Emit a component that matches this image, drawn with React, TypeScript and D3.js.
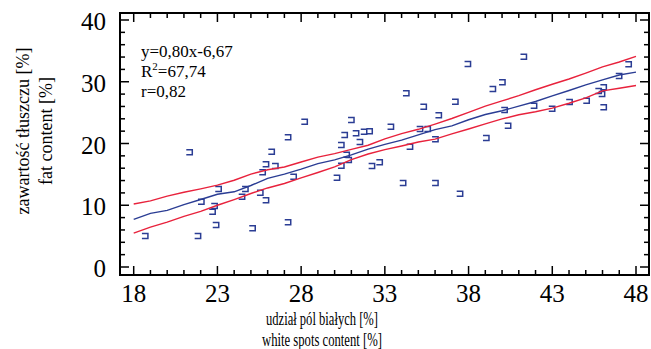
import React from 'react';
import * as d3 from 'd3';

// white spots content [%] vs fat content [%]
const pointsX = [
  18.67, 21.32, 21.82, 22.02, 22.69, 22.81, 22.9, 23.05, 24.45, 24.65,
  25.08, 25.54, 25.68, 25.88, 25.88, 26.22, 26.44, 27.2, 27.2, 27.53,
  28.19, 30.12, 30.38, 30.38, 30.58, 30.7, 30.82, 30.98, 31.26, 31.49,
  31.74, 32.07, 32.21, 32.67, 33.34, 34.07, 34.26, 34.48, 35.08, 35.3,
  35.54, 36.0, 36.0, 36.2, 37.19, 37.47, 37.94, 39.04, 39.43, 40.0,
  40.13, 40.34, 41.28, 41.89, 42.97, 44.01, 45.03, 45.75, 46.05, 45.95,
  46.05, 46.97, 47.54,
];
const pointsY = [
  5.02, 18.57, 5.02, 10.57, 8.96, 9.88, 6.8, 12.63, 11.38, 12.63,
  6.27, 12.03, 15.34, 16.63, 10.8, 18.67, 16.36, 21.0, 7.24, 14.62,
  23.53, 14.46, 19.76, 16.4, 21.38, 18.19, 17.33, 23.81, 21.65, 20.24,
  21.91, 21.99, 16.36, 16.96, 22.72, 13.6, 28.13, 19.48, 22.35, 25.96,
  22.35, 20.68, 13.6, 24.57, 26.77, 11.85, 32.87, 20.89, 28.83, 29.91,
  25.43, 22.88, 34.06, 26.1, 25.64, 26.72, 26.93, 28.5, 29.1, 28.02,
  25.86, 30.93, 32.84,
];

// regression curve and confidence bands
const lineX = [
  18, 19, 20, 21, 22, 23, 24, 25, 26, 27, 28, 29, 30, 31, 32, 33,
  34, 35, 36, 37, 38, 39, 40, 41, 42, 43, 44, 45, 46, 47, 48,
];
const fitY = [
  7.72, 8.68, 9.18, 10.1, 10.93, 11.78, 12.18, 13.2, 14.35, 15.05, 15.85,
  16.75, 17.35, 18.15, 19.1, 19.85, 20.55, 21.4, 22.25, 22.85, 23.85,
  24.7, 25.3, 26.05, 26.8, 27.72, 28.58, 29.5, 30.3, 31.1, 31.55,
];
const upperY = [
  10.2, 10.71, 11.47, 12.1, 12.66, 13.25, 14.05, 15.05, 15.75, 16.2, 17.0,
  17.8, 18.35, 19.05, 19.72, 20.75, 21.6, 22.3, 23.15, 24.05, 25.05,
  26.05, 26.9, 27.75, 28.7, 29.6, 30.45, 31.4, 32.4, 33.2, 34.1,
];
const lowerY = [
  5.48, 6.45, 7.28, 8.2, 9.02, 10.0, 10.92, 11.9, 12.8, 13.52, 14.42,
  15.3, 16.2, 17.38, 18.3, 19.0, 19.6, 20.25, 20.7, 21.55, 22.35,
  23.18, 23.98, 24.65, 25.15, 25.72, 26.52, 27.4, 28.52, 28.95, 29.4,
];

const xTicks = [18, 23, 28, 33, 38, 43, 48];
const yTicks = [0, 10, 20, 30, 40];
const yMinor = [2, 4, 6, 8, 12, 14, 16, 18, 22, 24, 26, 28, 32, 34, 36, 38];
const xMinor = d3.range(18, 49).filter(v => !xTicks.includes(v));

const annotation = ['y=0,80x-6,67', '=67,74', 'r=0,82'];

const W = 651, H = 349;
const frame = { left: 120, right: 649, top: 13, bottom: 275 };
const font = 'Liberation Serif, Times New Roman, serif';
const blue = '#2b3d94';
const red = '#e8223c';

export default function App() {
  const x = d3.scaleLinear().domain([18, 48]).range([133.7, 636]);
  const y = d3.scaleLinear().domain([0, 40]).range([267, 20]);

  const line = (ys: number[]) =>
    d3.line<number>().x((_, i) => x(lineX[i])).y(d => y(d))(ys) || '';

  const major = 9, minor = 5;

  return (
    <svg width={W} height={H} style={{ position: 'absolute', left: 0, top: 0, background: '#fff' }}>
      <g stroke="#000" strokeWidth={1.5}>
        {yTicks.map(v => (
          <g key={'ym' + v}>
            <line x1={frame.left} x2={frame.left + major} y1={y(v)} y2={y(v)} />
            <line x1={frame.right} x2={frame.right - major} y1={y(v)} y2={y(v)} />
          </g>
        ))}
        {yMinor.map(v => (
          <g key={'yn' + v}>
            <line x1={frame.left} x2={frame.left + minor} y1={y(v)} y2={y(v)} />
            <line x1={frame.right} x2={frame.right - minor} y1={y(v)} y2={y(v)} />
          </g>
        ))}
        {xTicks.map(v => (
          <g key={'xm' + v}>
            <line x1={x(v)} x2={x(v)} y1={frame.bottom} y2={frame.bottom - major} />
            <line x1={x(v)} x2={x(v)} y1={frame.top} y2={frame.top + major} />
          </g>
        ))}
        {xMinor.map(v => (
          <g key={'xn' + v}>
            <line x1={x(v)} x2={x(v)} y1={frame.bottom} y2={frame.bottom - minor} />
            <line x1={x(v)} x2={x(v)} y1={frame.top} y2={frame.top + minor} />
          </g>
        ))}
      </g>

      <g fill="none" stroke={blue} strokeWidth={1.5}>
        {pointsX.map((px, i) => {
          const cx = x(px), cy = y(pointsY[i]);
          return <path key={i} d={`M${cx - 3},${cy - 2.5}H${cx + 3}V${cy + 2.5}H${cx - 3}`} />;
        })}
      </g>

      <path d={line(upperY)} fill="none" stroke={red} strokeWidth={1.4} />
      <path d={line(lowerY)} fill="none" stroke={red} strokeWidth={1.4} />
      <path d={line(fitY)} fill="none" stroke={blue} strokeWidth={1.4} />

      <rect x={frame.left} y={frame.top} width={frame.right - frame.left} height={frame.bottom - frame.top}
        fill="none" stroke="#000" strokeWidth={2} />

      <g fontFamily={font} fontSize={25} fill="#000">
        {yTicks.map(v => (
          <text key={'yl' + v} x={106} y={y(v) + 10} textAnchor="end">{v}</text>
        ))}
        {xTicks.map(v => (
          <text key={'xl' + v} x={x(v)} y={302} textAnchor="middle">{v}</text>
        ))}
      </g>

      <g fontFamily={font} fontSize={17} fill="#000">
        <text x={141} y={57}>{annotation[0]}</text>
        <text x={141} y={77}>R<tspan fontSize={11} dy={-7}>2</tspan><tspan dy={7}>{annotation[1]}</tspan></text>
        <text x={141} y={97}>{annotation[2]}</text>
      </g>

      <g fontFamily={font} fontSize={18} fill="#000" textAnchor="middle">
        <text transform="translate(29,131) rotate(-90)">zawartość tłuszczu [%]</text>
        <text transform="translate(52,131) rotate(-90)">fat content [%]</text>
        <text x={322} y={325} textLength={112} lengthAdjust="spacingAndGlyphs">udział pól białych [%]</text>
        <text x={322} y={346} textLength={120} lengthAdjust="spacingAndGlyphs">white spots content [%]</text>
      </g>
    </svg>
  );
}
